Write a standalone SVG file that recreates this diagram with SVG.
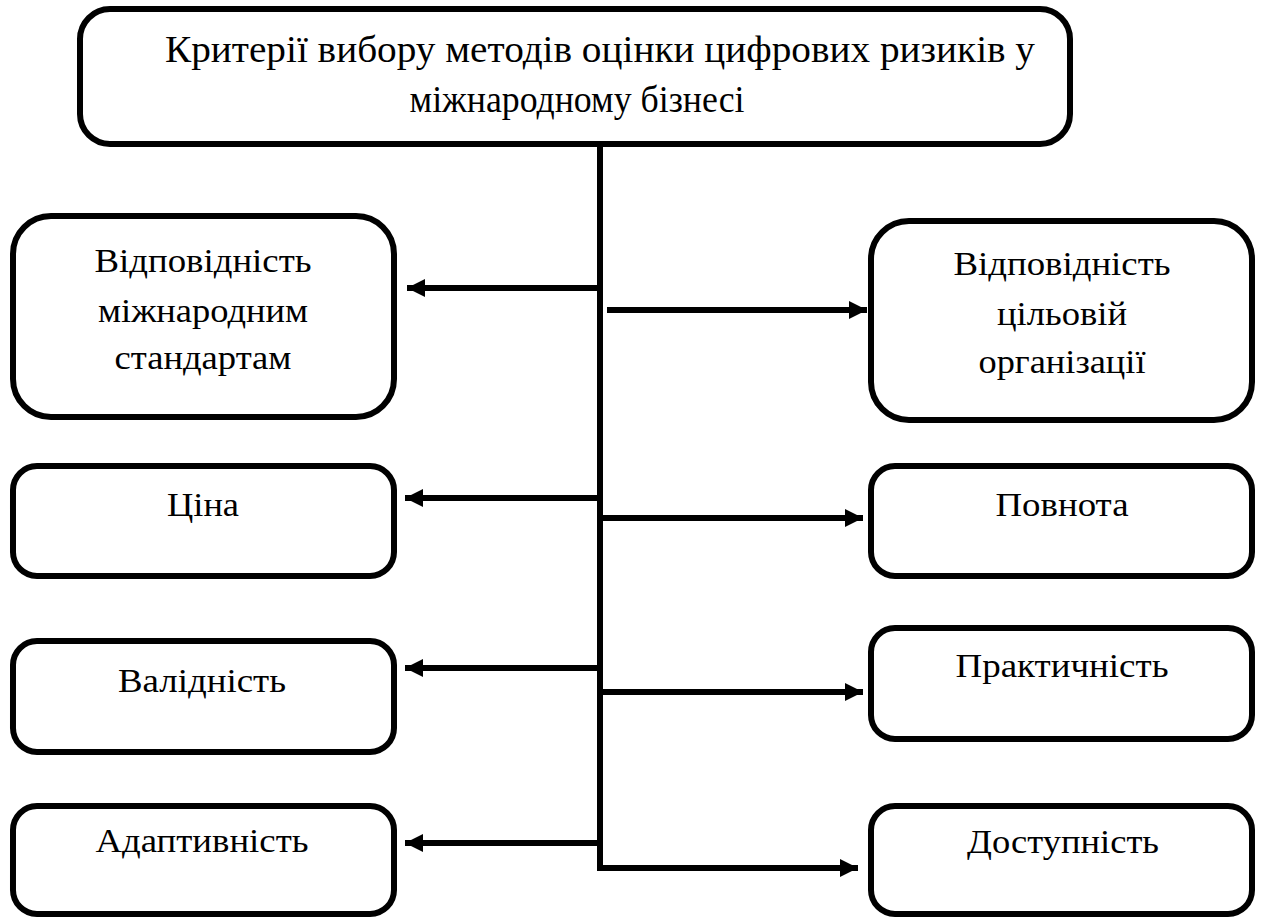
<svg xmlns="http://www.w3.org/2000/svg" width="1262" height="919" viewBox="0 0 1262 919">
<style>
.box{fill:#fff;stroke:#000;stroke-width:6}
.t{font-family:"Liberation Serif","DejaVu Serif",serif;font-size:33px;fill:#000;text-anchor:middle}
.tt{font-family:"Liberation Serif","DejaVu Serif",serif;font-size:37px;fill:#000;text-anchor:middle}
.c{stroke:#000;stroke-width:6;fill:none}
</style>
<defs>
<marker id="ah" markerUnits="userSpaceOnUse" markerWidth="20" markerHeight="20" viewBox="0 0 20 20" refX="18" refY="10" orient="auto">
<path d="M0,1 L18,10 L0,19 Z" fill="#000"/>
</marker>
</defs>
<g id="root">
<rect class="box" x="80" y="9" width="990" height="135" rx="30"/>
<text class="tt" x="600" y="62" textLength="870" lengthAdjust="spacingAndGlyphs">Критерії вибору методів оцінки цифрових ризиків у</text>
<text class="tt" x="577" y="112" textLength="335" lengthAdjust="spacingAndGlyphs">міжнародному бізнесі</text>
</g>
<g id="n1">
<rect class="box" x="13" y="216" width="381" height="201" rx="38"/>
<text class="t" x="203" y="272" textLength="217" lengthAdjust="spacingAndGlyphs">Відповідність</text>
<text class="t" x="203" y="322" textLength="210" lengthAdjust="spacingAndGlyphs">міжнародним</text>
<text class="t" x="203" y="369" textLength="177" lengthAdjust="spacingAndGlyphs">стандартам</text>
</g>
<g id="n2">
<rect class="box" x="871" y="221" width="381" height="199" rx="38"/>
<text class="t" x="1062" y="275" textLength="217" lengthAdjust="spacingAndGlyphs">Відповідність</text>
<text class="t" x="1062" y="325" textLength="130" lengthAdjust="spacingAndGlyphs">цільовій</text>
<text class="t" x="1062" y="373" textLength="167" lengthAdjust="spacingAndGlyphs">організації</text>
</g>
<g id="n3">
<rect class="box" x="13" y="466" width="381" height="110" rx="24"/>
<text class="t" x="203" y="516" textLength="72" lengthAdjust="spacingAndGlyphs">Ціна</text>
</g>
<g id="n4">
<rect class="box" x="871" y="466" width="381" height="110" rx="24"/>
<text class="t" x="1062" y="516" textLength="133" lengthAdjust="spacingAndGlyphs">Повнота</text>
</g>
<g id="n5">
<rect class="box" x="13" y="641" width="381" height="111" rx="24"/>
<text class="t" x="202" y="692" textLength="168" lengthAdjust="spacingAndGlyphs">Валідність</text>
</g>
<g id="n6">
<rect class="box" x="871" y="628" width="381" height="111" rx="24"/>
<text class="t" x="1062" y="677" textLength="213" lengthAdjust="spacingAndGlyphs">Практичність</text>
</g>
<g id="n7">
<rect class="box" x="13" y="806" width="381" height="108" rx="24"/>
<text class="t" x="202" y="852" textLength="213" lengthAdjust="spacingAndGlyphs">Адаптивність</text>
</g>
<g id="n8">
<rect class="box" x="871" y="806" width="381" height="108" rx="24"/>
<text class="t" x="1063" y="853" textLength="192" lengthAdjust="spacingAndGlyphs">Доступність</text>
</g>
<g id="connectors">
<line class="c" x1="600" y1="147" x2="600" y2="871"/>
<line class="c" x1="600" y1="288" x2="407" y2="288" marker-end="url(#ah)"/>
<line class="c" x1="607" y1="310" x2="867" y2="310" marker-end="url(#ah)"/>
<line class="c" x1="600" y1="498" x2="405" y2="498" marker-end="url(#ah)"/>
<line class="c" x1="600" y1="518" x2="863" y2="518" marker-end="url(#ah)"/>
<line class="c" x1="600" y1="668" x2="405" y2="668" marker-end="url(#ah)"/>
<line class="c" x1="600" y1="692" x2="863" y2="692" marker-end="url(#ah)"/>
<line class="c" x1="600" y1="843" x2="405" y2="843" marker-end="url(#ah)"/>
<line class="c" x1="597" y1="868" x2="858" y2="868" marker-end="url(#ah)"/>
</g>
</svg>
